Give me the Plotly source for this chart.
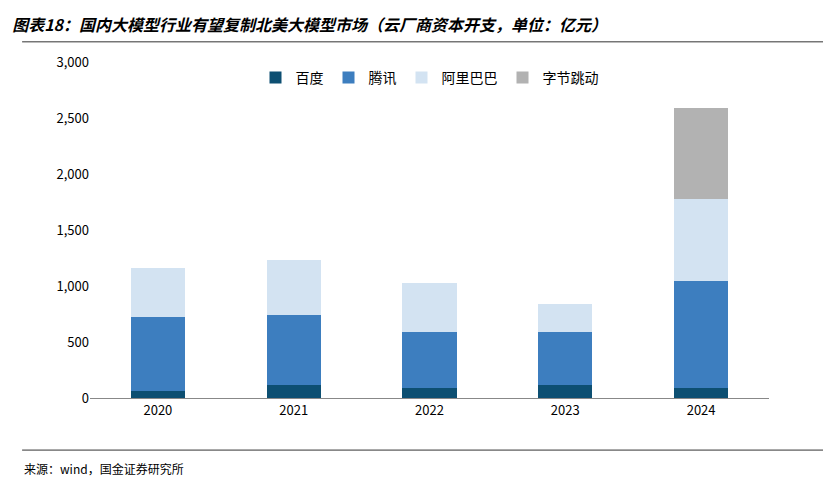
import plotly.graph_objects as go

years = ["2020", "2021", "2022", "2023", "2024"]
baidu = [60, 116, 89, 116, 89]
tencent = [663, 625, 500, 473, 956]
alibaba = [438, 491, 438, 250, 732]
bytedance = [0, 0, 0, 0, 812]
names = ["百度", "腾讯", "阿里巴巴", "字节跳动"]
colors = ["#0d4f72", "#3d7ebf", "#d3e3f2", "#b2b2b2"]

fig = go.Figure()
for n, v, c in zip(names, [baidu, tencent, alibaba, bytedance], colors):
    fig.add_bar(x=years, y=v, name=n, marker_color=c, marker_line_width=0, width=0.4)

fig.update_layout(
    barmode="stack", width=831, height=478, plot_bgcolor="white", paper_bgcolor="white",
    font=dict(family="Noto Sans CJK SC", size=13, color="#000"),
    margin=dict(l=82, r=70, t=54, b=88),
    legend=dict(orientation="h", x=0.5, xanchor="center", y=1.0, yanchor="top", font=dict(size=14),
                traceorder="normal", itemwidth=30, entrywidthmode="pixels"),
    yaxis=dict(range=[0, 3000], dtick=500, tickformat=",", showgrid=False, zeroline=False,
               ticks="", showline=False),
    xaxis=dict(showline=True, linecolor="#888", ticks=""),
    title=dict(text="<b><i>图表18：国内大模型行业有望复制北美大模型市场（云厂商资本开支，单位：亿元）</i></b>",
               x=0.005, xanchor="left", y=0.975, font=dict(size=16)),
)
fig.add_shape(type="line", xref="paper", yref="paper", x0=-0.1, x1=1.1, y0=1.06, y1=1.06,
              line=dict(color="#333", width=1))
fig.add_shape(type="line", xref="paper", yref="paper", x0=-0.1, x1=1.1, y0=-0.155, y1=-0.155,
              line=dict(color="#333", width=1))
fig.add_annotation(text="来源：wind，国金证券研究所", xref="paper", yref="paper", x=-0.1, y=-0.18,
                   xanchor="left", yanchor="top", showarrow=False, font=dict(size=12))
fig.write_html("out.html")
